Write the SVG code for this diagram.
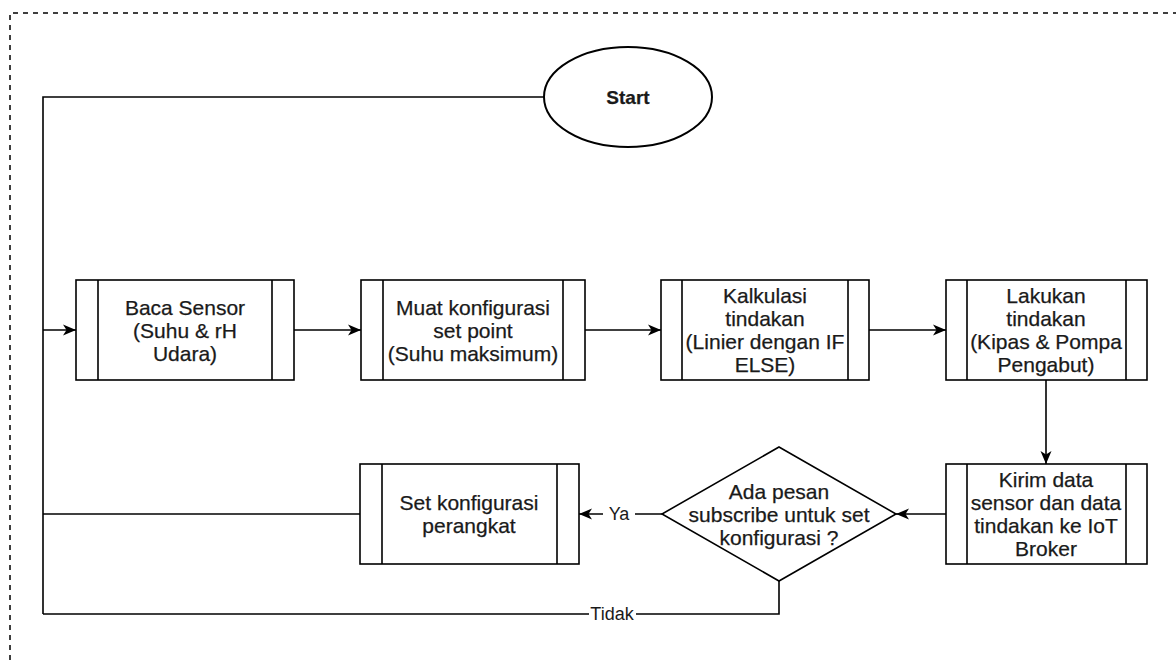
<svg xmlns="http://www.w3.org/2000/svg" width="1176" height="660" viewBox="0 0 1176 660">
<style>
.box{fill:#fff;stroke:#000;stroke-width:1.6}
.bar{fill:none;stroke:#000;stroke-width:1.6}
.t{font-family:"Liberation Sans",Arial,sans-serif;font-size:21px;fill:#1a1a1a;text-anchor:middle;stroke:#1a1a1a;stroke-width:0.25}
.lbl{font-family:"Liberation Sans",Arial,sans-serif;font-size:18px;fill:#1a1a1a;text-anchor:middle}
.edge{fill:none;stroke:#000;stroke-width:1.6}
.arr{marker-end:url(#ah)}
</style>
<defs>
<marker id="ah" markerWidth="14" markerHeight="14" viewBox="0 0 14 14" refX="13" refY="7" orient="auto" markerUnits="userSpaceOnUse">
<path d="M0,1.5 L13,7 L0,12.5 L3.5,7 z" fill="#000"/>
</marker>
</defs>
<rect width="1176" height="660" fill="#fff"/>
<path d="M10,670 L10,13 L1190,13" fill="none" stroke="#000" stroke-width="1.5" stroke-dasharray="5 5"/>

<g id="connectors">
<path class="edge" d="M544,97 L43,97 L43,614"/>
<path class="edge arr" d="M43,330 L76,330"/>
<path class="edge arr" d="M294,330 L361,330"/>
<path class="edge arr" d="M585,330 L661,330"/>
<path class="edge arr" d="M869,330 L946,330"/>
<path class="edge arr" d="M1046,380 L1046,464"/>
<path class="edge arr" d="M946,514 L896,514"/>
<path class="edge arr" d="M662,514 L579,514"/>
<path class="edge" d="M360,514 L43,514"/>
<path class="edge" d="M779,581 L779,614 L43,614"/>
<rect x="603" y="503" width="32" height="22" fill="#fff"/>
<text class="lbl" x="619" y="520">Ya</text>
<rect x="589" y="603" width="47" height="22" fill="#fff"/>
<text class="lbl" x="612" y="620">Tidak</text>
</g>

<g id="start">
<ellipse cx="628" cy="97" rx="84" ry="50" fill="#fff" stroke="#000" stroke-width="2"/>
<text class="t" x="628" y="104" style="font-weight:bold;font-size:19px">Start</text>
</g>

<g id="baca">
<rect class="box" x="76" y="280" width="218" height="100"/>
<path class="bar" d="M98,280 V380 M272,280 V380"/>
<text class="t" x="185" y="314.5">Baca Sensor</text>
<text class="t" x="185" y="337.5">(Suhu &amp; rH</text>
<text class="t" x="185" y="360.5">Udara)</text>
</g>

<g id="muat">
<rect class="box" x="361" y="280" width="224" height="100"/>
<path class="bar" d="M383,280 V380 M563,280 V380"/>
<text class="t" x="473" y="314.5">Muat konfigurasi</text>
<text class="t" x="473" y="337.5">set point</text>
<text class="t" x="473" y="360.5">(Suhu maksimum)</text>
</g>

<g id="kalkulasi">
<rect class="box" x="661" y="280" width="208" height="100"/>
<path class="bar" d="M682,280 V380 M848,280 V380"/>
<text class="t" x="765" y="303">Kalkulasi</text>
<text class="t" x="765" y="326">tindakan</text>
<text class="t" x="765" y="349">(Linier dengan IF</text>
<text class="t" x="765" y="372">ELSE)</text>
</g>

<g id="lakukan">
<rect class="box" x="946" y="280" width="201" height="100"/>
<path class="bar" d="M967,280 V380 M1126,280 V380"/>
<text class="t" x="1046" y="303">Lakukan</text>
<text class="t" x="1046" y="326">tindakan</text>
<text class="t" x="1046" y="349">(Kipas &amp; Pompa</text>
<text class="t" x="1046" y="372">Pengabut)</text>
</g>

<g id="kirim">
<rect class="box" x="946" y="464" width="201" height="100"/>
<path class="bar" d="M967,464 V564 M1126,464 V564"/>
<text class="t" x="1046" y="487">Kirim data</text>
<text class="t" x="1046" y="510">sensor dan data</text>
<text class="t" x="1046" y="533">tindakan ke IoT</text>
<text class="t" x="1046" y="556">Broker</text>
</g>

<g id="decision">
<polygon points="779,447 896,514 779,581 662,514" fill="#fff" stroke="#000" stroke-width="1.6"/>
<text class="t" x="779" y="498.5">Ada pesan</text>
<text class="t" x="779" y="521.5">subscribe untuk set</text>
<text class="t" x="779" y="544.5">konfigurasi ?</text>
</g>

<g id="setkonfig">
<rect class="box" x="360" y="464" width="219" height="100"/>
<path class="bar" d="M382,464 V564 M557,464 V564"/>
<text class="t" x="469" y="510">Set konfigurasi</text>
<text class="t" x="469" y="533">perangkat</text>
</g>
</svg>
